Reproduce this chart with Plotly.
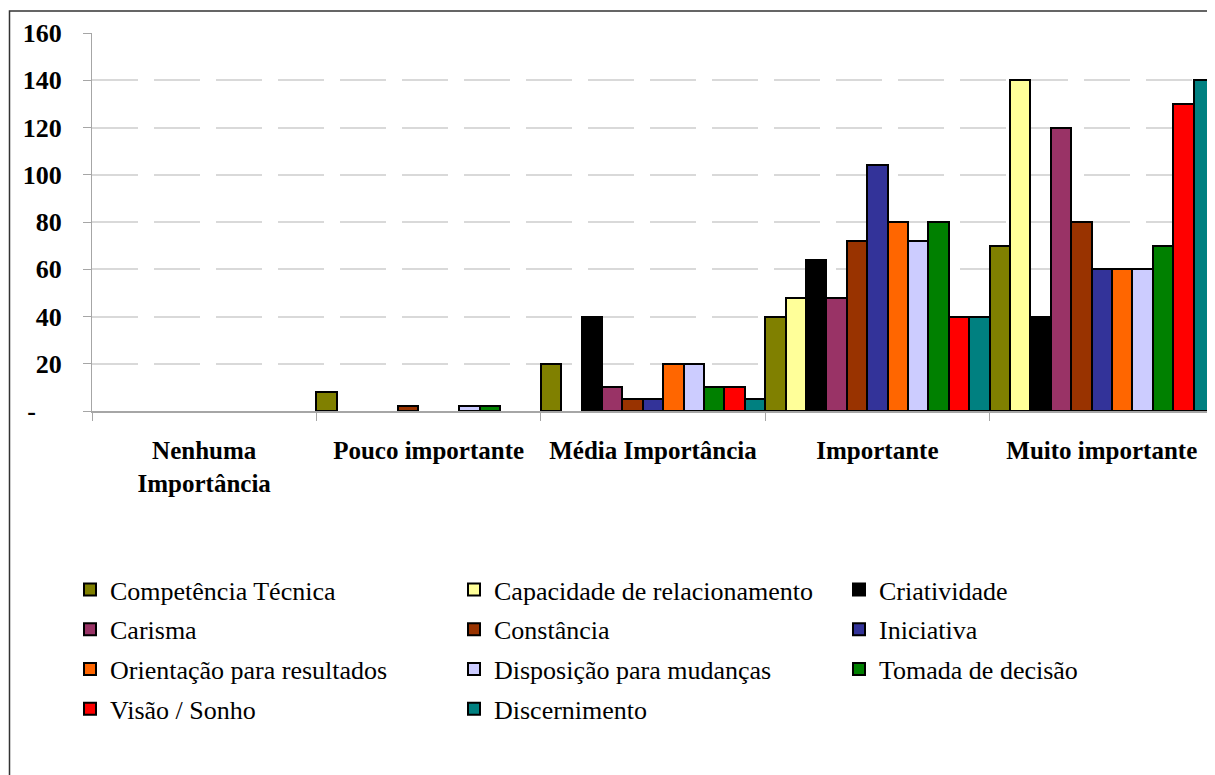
import plotly.graph_objects as go

categories = ["Nenhuma<br>Importância", "Pouco importante", "Média Importância", "Importante", "Muito importante"]

series_names = [
    "Competência Técnica", "Capacidade de relacionamento", "Criatividade",
    "Carisma", "Constância", "Iniciativa",
    "Orientação para resultados", "Disposição para mudanças", "Tomada de decisão",
    "Visão / Sonho", "Discernimento",
]

competencia_tecnica = [0, 8, 20, 40, 70]
capacidade_relacionamento = [0, 0, 0, 48, 140]
criatividade = [0, 0, 40, 64, 40]
carisma = [0, 0, 10, 48, 120]
constancia = [0, 2, 5, 72, 80]
iniciativa = [0, 0, 5, 104, 60]
orientacao_resultados = [0, 0, 20, 80, 60]
disposicao_mudancas = [0, 2, 20, 72, 60]
tomada_decisao = [0, 2, 10, 80, 70]
visao_sonho = [0, 0, 10, 40, 130]
discernimento = [0, 0, 5, 40, 140]

series_values = [
    competencia_tecnica, capacidade_relacionamento, criatividade,
    carisma, constancia, iniciativa,
    orientacao_resultados, disposicao_mudancas, tomada_decisao,
    visao_sonho, discernimento,
]

colors = ["#808000", "#FFFF99", "#000000", "#993366", "#993300", "#333399",
          "#FF6600", "#CCCCFF", "#008000", "#FF0000", "#008080"]

y_tickvals = [0, 20, 40, 60, 80, 100, 120, 140, 160]
y_ticktext = ["-\u00a0\u00a0\u00a0\u00a0", "20", "40", "60", "80", "100", "120", "140", "160"]

FONT = "'Liberation Serif', 'Times New Roman', Times, serif"
legend_ids = ["legend", "legend2", "legend3"]

fig = go.Figure()
for i, (name, vals, col) in enumerate(zip(series_names, series_values, colors)):
    # zero values are not drawn (Excel draws nothing for them)
    fig.add_trace(go.Bar(
        x=categories, y=[v if v else None for v in vals], name=name,
        marker=dict(color=col, line=dict(color="black", width=2)),
        legend=legend_ids[i % 3], legendgroup=name,
    ))

# page body has an 8px margin: work in screen pixels, shift by OFF
OFF = 8
W, H = 1215 - OFF, 775 - OFF
PL, PR, PT, PB = 92, 1214, 33, 411   # plot area in screen pixels
L, R, T, B = PL - OFF, W - (PR - OFF), PT - OFF, H - (PB - OFF)
pw = W - L - R
ph = H - T - B

def px_to_paper_x(px):
    return (px - OFF - L) / pw

def py_to_paper_y(py):
    return (H - B - (py - OFF)) / ph

leg_common = dict(
    orientation="v", yanchor="top", xanchor="left",
    font=dict(family=FONT, size=26, color="black"),
    bgcolor="rgba(0,0,0,0)", tracegroupgap=3, itemclick=False,
)
legend_y = py_to_paper_y(566)

fig.update_layout(
    width=W, height=H,
    margin=dict(l=L, r=R, t=T, b=B, pad=0),
    paper_bgcolor="white", plot_bgcolor="white",
    barmode="group", bargap=0, bargroupgap=0,
    font=dict(family=FONT, color="black"),
    showlegend=True,
    legend=dict(x=px_to_paper_x(70), y=legend_y, **leg_common),
    legend2=dict(x=px_to_paper_x(454), y=legend_y, **leg_common),
    legend3=dict(x=px_to_paper_x(839), y=legend_y, **leg_common),
    xaxis=dict(
        type="category", showgrid=False, showline=True, linecolor="#a6a6a6", linewidth=2,
        ticks="outside", tickson="boundaries", ticklen=8, tickcolor="#a6a6a6", tickwidth=1,
        tickfont=dict(family=FONT, size=25, color="black", weight="bold"),
        ticklabelstandoff=16, zeroline=False,
    ),
    yaxis=dict(
        range=[0, 160], tickvals=y_tickvals, ticktext=y_ticktext,
        showgrid=True, gridcolor="#d9d9d9", gridwidth=2, griddash="46px,16px",
        showline=True, linecolor="#a6a6a6", linewidth=1,
        ticks="outside", ticklen=8, tickcolor="#a6a6a6",
        tickfont=dict(family=FONT, size=26, color="black", weight="bold"),
        ticklabelstandoff=16, zeroline=False,
    ),
)

fig.add_shape(
    type="rect", xref="paper", yref="paper",
    x0=px_to_paper_x(9.5), x1=px_to_paper_x(1213.5),
    y0=py_to_paper_y(800), y1=py_to_paper_y(11),
    line=dict(color="#333333", width=1.5), fillcolor="rgba(0,0,0,0)", layer="above",
)

fig.write_html("out.html")
